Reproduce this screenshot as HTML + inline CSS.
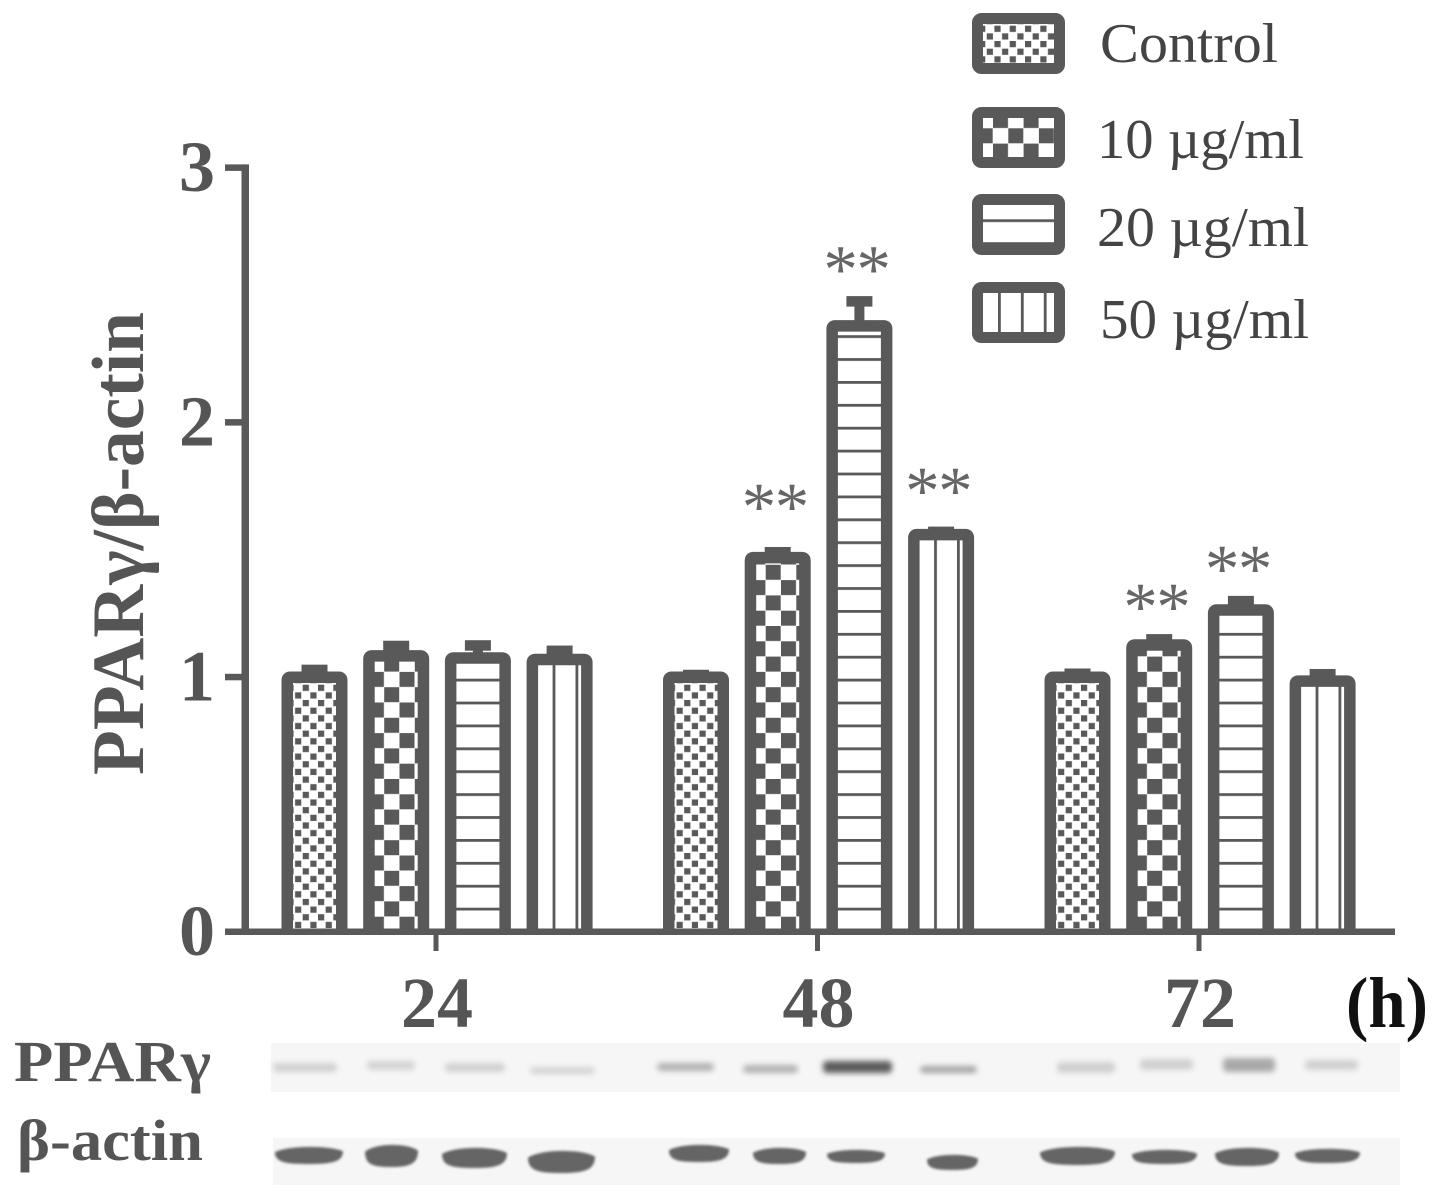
<!DOCTYPE html>
<html lang="en">
<head>
<meta charset="utf-8">
<title>PPARγ/β-actin bar chart</title>
<style>
html,body{margin:0;padding:0;background:#fff;}
svg{display:block;}
text{font-family:"Liberation Serif","Noto Serif CJK SC",serif;}
</style>
</head>
<body>
<svg id="chart" xmlns="http://www.w3.org/2000/svg" width="1441" height="1199" viewBox="0 0 1441 1199">
  <defs>
    <pattern id="p-control" patternUnits="userSpaceOnUse" x="-11.8" y="-2.5" width="15.3" height="15.3">
      <rect width="15.3" height="15.3" fill="#fff"/>
      <rect x="0" y="0" width="6.2" height="6.2" fill="#595959"/>
      <rect x="7.65" y="7.65" width="6.2" height="6.2" fill="#595959"/>
    </pattern>
    <pattern id="p-10" patternUnits="userSpaceOnUse" x="-12" y="0" width="30.6" height="30.6">
      <rect width="30.6" height="30.6" fill="#fff"/>
      <rect x="0" y="0" width="15" height="15" fill="#595959"/>
      <rect x="15.3" y="15.3" width="15" height="15" fill="#595959"/>
    </pattern>
    <pattern id="p-20" patternUnits="userSpaceOnUse" x="0" y="-1.4" width="22.9" height="22.9">
      <rect width="22.9" height="22.9" fill="#fff"/>
      <rect x="0" y="0" width="22.9" height="2.8" fill="#595959"/>
    </pattern>
    <pattern id="p-50" patternUnits="userSpaceOnUse" x="-7" y="0" width="22.9" height="22.9">
      <rect width="22.9" height="22.9" fill="#fff"/>
      <rect x="0" y="0" width="2.8" height="22.9" fill="#595959"/>
    </pattern>
    <filter id="blur-band" x="-20%" y="-60%" width="140%" height="220%"><feGaussianBlur stdDeviation="1.4"/></filter>
    <filter id="blur-band-soft" x="-20%" y="-100%" width="140%" height="300%"><feGaussianBlur stdDeviation="3"/></filter>
  </defs>

  <g id="marks"></g>
  <g id="axes"></g>
  <g id="legend"></g>

  <text transform="translate(143,775) rotate(-90)" font-size="74" font-weight="700" fill="#555" textLength="463" lengthAdjust="spacingAndGlyphs">PPARγ/β-actin</text>
  <text x="1346" y="1027" font-size="72" font-weight="700" fill="#111" textLength="82" lengthAdjust="spacingAndGlyphs">(h)</text>

  <g>
    <rect x="271" y="1043" width="1129" height="49" fill="#f6f6f6"/>
    <rect x="273" y="1138" width="1127" height="47" fill="#f6f6f6"/>
    <g id="blots"></g>
    <text x="14" y="1081" font-size="58" font-weight="700" fill="#555" textLength="197" lengthAdjust="spacingAndGlyphs">PPARγ</text>
    <text x="17" y="1160" font-size="58" font-weight="700" fill="#555" textLength="186" lengthAdjust="spacingAndGlyphs">β-actin</text>
  </g>
</svg>

<script>
// ---- chart data ----
const groups = ['24', '48', '72'];
const seriesNames = ['Control', '10 µg/ml', '20 µg/ml', '50 µg/ml'];
const seriesKeys = ['control', '10', '20', '50'];
const means24 = [1.00, 1.084, 1.076, 1.07];
const means48 = [1.00, 1.47, 2.38, 1.56];
const means72 = [1.00, 1.127, 1.264, 0.985];
const errors24 = [0.03, 0.04, 0.05, 0.035];
const errors48 = [0.01, 0.022, 0.097, 0.012];
const errors72 = [0.015, 0.023, 0.036, 0.028];
const marks24 = ['', '', '', ''];
const marks48 = ['', '**', '**', '**'];
const marks72 = ['', '**', '**', ''];
// height (in axis units) of each significance mark's text baseline
const markLevels24 = [0, 0, 0, 0];
const markLevels48 = [0, 1.578, 2.51, 1.641];
const markLevels72 = [0, 1.185, 1.335, 0];
const yTicks = [0, 1, 2, 3];
const yTickLabels = ['0', '1', '2', '3'];
// blot band darkness per lane (0 = none, 1 = darkest)
const ppargBands = [0.22, 0.2, 0.22, 0.2, 0.4, 0.4, 0.9, 0.48, 0.22, 0.22, 0.45, 0.22];
const actinBands = [0.85, 0.85, 0.85, 0.85, 0.85, 0.85, 0.85, 0.85, 0.85, 0.85, 0.85, 0.85];

const allMeans = [means24, means48, means72];
const allErrors = [errors24, errors48, errors72];
const allMarks = [marks24, marks48, marks72];
const allMarkLevels = [markLevels24, markLevels48, markLevels72];

// ---- axis functions ----
const INK = '#595959';
const Y0 = 932, PX_PER_UNIT = 254.7;
function yScale(v) { return Y0 - v * PX_PER_UNIT; }
function groupCenter(g) { return 436 + g * 381.5; }
function barCenter(g, s) { return groupCenter(g) - 121.5 + s * 81.7; }

const NS = 'http://www.w3.org/2000/svg';
function make(tag, parent, attrs) {
  const el = document.createElementNS(NS, tag);
  for (const k in attrs) el.setAttribute(k, attrs[k]);
  parent.appendChild(el);
  return el;
}

const marksLayer = document.getElementById('marks');
const axesLayer = document.getElementById('axes');
const legendLayer = document.getElementById('legend');
const blotsLayer = document.getElementById('blots');

// ---- bars, error bars, significance marks ----
const BAR_W = 54.5, STROKE = 11.5;
groups.forEach(function (label, g) {
  allMeans[g].forEach(function (mean, s) {
    const cx = barCenter(g, s);
    const top = yScale(mean);
    const errTop = yScale(mean + allErrors[g][s]);

    const err = make('g', marksLayer, {});
    
    
    make('rect', err, { x: cx - 5, y: errTop, width: 10, height: Math.max(top - errTop, 0), fill: INK });
    make('rect', err, { x: cx - 13, y: errTop - 5, width: 26, height: 10.5, fill: INK });

    const bar = make('g', marksLayer, { transform: 'translate(' + cx + ',' + Y0 + ')' });
    
    
    const h = Y0 - top;
    make('rect', bar, { x: -BAR_W / 2, y: -h, width: BAR_W, height: h, fill: 'url(#p-' + seriesKeys[s] + ')' });
    make('path', bar, {
      d: 'M' + (-BAR_W / 2) + ' 0V' + (-h + 3) + 'Q' + (-BAR_W / 2) + ' ' + (-h) + ' ' + (-BAR_W / 2 + 3) + ' ' + (-h) +
         'H' + (BAR_W / 2 - 3) + 'Q' + (BAR_W / 2) + ' ' + (-h) + ' ' + (BAR_W / 2) + ' ' + (-h + 3) + 'V0',
      fill: 'none', stroke: INK, 'stroke-width': STROKE
    });

    if (allMarks[g][s]) {
      const sig = make('text', marksLayer, {
        x: cx - 3, y: yScale(allMarkLevels[g][s]), 'font-size': 69, fill: '#666', 'text-anchor': 'middle', 'letter-spacing': -1.5
      });
      
      
      sig.textContent = allMarks[g][s];
    }
  });
});

// ---- axes ----
const yAxisLine = make('rect', axesLayer, { x: 241.5, y: yScale(3) - 3.5, width: 7.5, height: Y0 - yScale(3) + 6.5, fill: INK });



const xAxisLine = make('rect', axesLayer, { x: 225, y: Y0 - 3.5, width: 1170, height: 6.5, fill: INK });



yTicks.forEach(function (v, i) {
  const tick = make('rect', axesLayer, { x: 225, y: yScale(v) - 3.5, width: 20, height: 6.5, fill: INK });
  
  
  const lab = make('text', axesLayer, {
    x: 197, y: yScale(v) + 23, 'font-size': 72, 'font-weight': 700, fill: '#555', 'text-anchor': 'middle'
  });
  
  
  lab.textContent = yTickLabels[i];
});

groups.forEach(function (label, g) {
  const cx = groupCenter(g);
  const tick = make('rect', axesLayer, { x: cx - 2.5, y: Y0, width: 5, height: 19, fill: INK });
  
  
  const lab = make('text', axesLayer, {
    x: cx + 1, y: 1027, 'font-size': 72, 'font-weight': 700, fill: '#555', 'text-anchor': 'middle'
  });
  
  
  lab.textContent = label;
});

// ---- legend ----
const legendSwatchTops = [13, 107, 194, 282];
const legendOrigins = [[1006.2, 28.2], [1005, 113], [1018, 220.7], [1005, 200]];
const legendTextX = [1100, 1097, 1097, 1100];
const legendTextBase = [62, 158, 246, 338];
const legendTextW = [178, 207, 212, 209];
seriesNames.forEach(function (name, s) {
  const entry = make('g', legendLayer, {});
  
  
  const top = legendSwatchTops[s];
  const o = legendOrigins[s];
  const fillG = make('g', entry, { transform: 'translate(' + o[0] + ',' + o[1] + ')' });
  make('rect', fillG, {
    x: 978 - o[0], y: top + 6 - o[1], width: 81, height: 50, fill: 'url(#p-' + seriesKeys[s] + ')'
  });
  const sw = make('rect', entry, {
    x: 977.5, y: top + 5.5, width: 82, height: 50, rx: 4, fill: 'none', stroke: INK, 'stroke-width': 11
  });
  
  
  const t = make('text', entry, {
    x: legendTextX[s], y: legendTextBase[s], 'font-size': 56, fill: '#444',
    textLength: legendTextW[s], lengthAdjust: 'spacingAndGlyphs'
  });
  
  
  t.textContent = name;
});

// ---- blot bands ----
const ppargLanes = [[273,1063,64,9],[367,1061,48,9],[445,1063,60,9],[530,1067,65,7],[657,1063,57,8],[743,1065,55,8],[823,1061,69,12],[920,1066,57,7],[1057,1062,58,11],[1140,1059,53,11],[1223,1058,52,14],[1305,1060,53,10]];
const actinLanes = [[275,1147,68,17],[365,1145,53,22],[442,1148,65,20],[528,1151,67,22],[669,1145,60,17],[753,1148,53,16],[827,1150,58,13],[927,1155,51,15],[1040,1147,75,18],[1132,1150,65,14],[1215,1148,64,18],[1295,1149,65,14]];
function shade(d) {
  const c = Math.round(245 - d * 170);
  return 'rgb(' + c + ',' + c + ',' + c + ')';
}
function lensPath(x, y, w, h) {
  return 'M' + x + ' ' + (y + 0.3 * h) +
    'C' + (x + 0.2 * w) + ' ' + (y - 0.1 * h) + ' ' + (x + 0.8 * w) + ' ' + (y - 0.1 * h) + ' ' + (x + w) + ' ' + (y + 0.25 * h) +
    'C' + (x + w) + ' ' + (y + 0.85 * h) + ' ' + (x + 0.85 * w) + ' ' + (y + h) + ' ' + (x + 0.5 * w) + ' ' + (y + h) +
    'C' + (x + 0.15 * w) + ' ' + (y + h) + ' ' + x + ' ' + (y + 0.9 * h) + ' ' + x + ' ' + (y + 0.3 * h) + 'Z';
}
ppargLanes.forEach(function (b, i) {
  const band = make('rect', blotsLayer, {
    x: b[0], y: b[1], width: b[2], height: b[3], rx: 4, fill: shade(ppargBands[i]), filter: 'url(#blur-band-soft)'
  });
  
  
});
actinLanes.forEach(function (b, i) {
  const band = make('path', blotsLayer, {
    d: lensPath(b[0], b[1], b[2], b[3]), fill: shade(actinBands[i]), filter: 'url(#blur-band)'
  });
  
  
});
</script>
</body>
</html>
